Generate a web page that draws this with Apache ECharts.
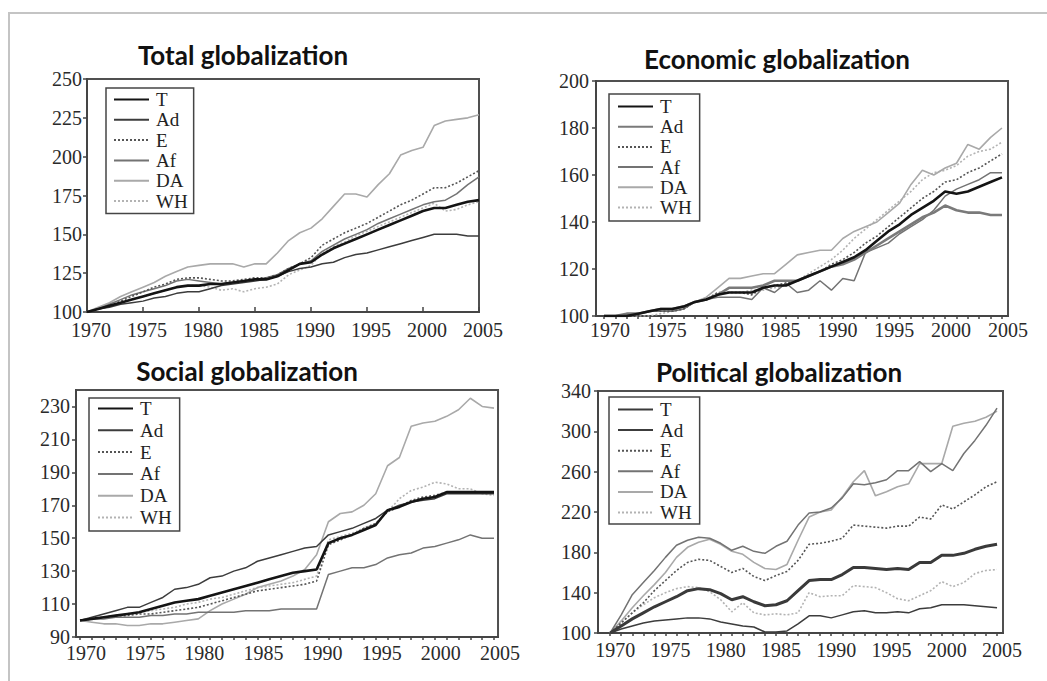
<!DOCTYPE html>
<html>
<head>
<meta charset="utf-8">
<script src="https://cdn.jsdelivr.net/npm/echarts@6/dist/echarts.min.js"></script>
<style>
  html, body { margin: 0; padding: 0; background: #fff; }
  #page { position: relative; width: 1047px; height: 681px; overflow: hidden; background: #fff; }
  #frame { position: absolute; left: 8px; top: 12px; width: 1060px; height: 700px;
           border-left: 2px solid #c4c4c4; border-top: 2px solid #c4c4c4; box-sizing: border-box; }
  .panel { position: absolute; }
</style>
</head>
<body>
<div id="page">
  <div id="frame"></div>
  <div class="panel" id="p1" style="left:0;top:0;width:523px;height:340px"></div>
  <div class="panel" id="p2" style="left:523px;top:0;width:524px;height:340px"></div>
  <div class="panel" id="p3" style="left:0;top:340px;width:523px;height:341px"></div>
  <div class="panel" id="p4" style="left:523px;top:340px;width:524px;height:341px"></div>
</div>
<script>
// Index values (1970 = 100) by region group, 1970-2005
const years = [1970,1971,1972,1973,1974,1975,1976,1977,1978,1979,1980,1981,1982,1983,1984,1985,1986,1987,
               1988,1989,1990,1991,1992,1993,1994,1995,1996,1997,1998,1999,2000,2001,2002,2003,2004,2005];
const seriesNames = ['T', 'Ad', 'E', 'Af', 'DA', 'WH'];
const yearLabels = [1970, 1975, 1980, 1985, 1990, 1995, 2000, 2005];

// Total globalization
const totalT  = [100,102,104,106,108,110,112,114,116,117, 117,118,118,119,120,121,121,123,127,131, 132,137,141,144,147,150,153,156,159,162, 165,167,167,169,171,172];
const totalAd = [100,102,103,105,106,107,109,110,112,113, 113,115,117,118,119,120,121,123,126,128, 129,131,132,135,137,138,140,142,144,146, 148,150,150,150,149,149];
const totalE  = [100,102,104,107,110,113,116,118,121,122, 122,121,120,120,121,122,122,124,128,131, 135,143,147,151,154,157,161,165,169,172, 176,180,180,183,187,191];
const totalAf = [100,102,105,108,111,113,115,117,120,121, 120,119,118,119,120,121,122,124,128,131, 133,139,143,147,150,153,157,160,163,166, 169,171,172,176,182,187];
const totalDA = [100,103,106,110,113,116,119,123,126,129, 130,131,131,131,129,131,131,138,146,151, 154,160,168,176,176,174,182,189,201,204, 206,220,223,224,225,227];
const totalWH = [100,102,104,106,108,110,112,114,116,117, 117,116,114,115,113,115,116,118,124,127, 130,138,142,145,149,152,155,158,161,164, 167,170,165,166,169,171];

// Economic globalization
const econT  = [100,100,100,101,102,103,103,104,106,107, 109,110,110,110,112,113,113,115,117,119, 121,123,125,128,132,136,139,143,146,149, 153,152,153,155,157,159];
const econAd = [100,100,101,101,102,103,103,104,106,107, 109,112,112,112,113,115,115,115,117,119, 121,122,124,127,130,133,136,139,142,144, 147,145,144,144,143,143];
const econE  = [100,100,100,101,102,102,102,103,106,107, 110,110,110,109,112,113,114,115,117,119, 122,124,127,131,134,138,142,146,150,153, 157,158,161,163,166,169];
const econAf = [100,100,100,101,102,102,102,103,106,107, 108,108,108,107,112,110,114,110,111,115, 111,116,115,127,129,131,135,138,141,145, 151,154,156,158,161,161];
const econDA = [100,100,100,101,102,102,102,103,106,108, 112,116,116,117,118,118,122,126,127,128, 128,133,136,138,140,144,148,156,162,160, 163,165,173,171,176,180];
const econWH = [100,100,99,100,100,101,102,103,106,107, 110,110,110,111,111,112,113,115,118,121, 124,128,133,137,141,145,149,153,158,161, 162,164,168,170,171,174];

// Social globalization
const socT  = [100,101,102,103,104,105,107,109,111,112, 113,115,117,119,121,123,125,127,129,130, 131,147,150,152,155,158,167,169,172,174, 175,178,178,178,178,178];
const socAd = [100,102,104,106,108,108,111,114,119,120, 122,126,127,130,132,136,138,140,142,144, 145,152,154,156,159,162,167,170,172,173, 174,177,177,177,177,177];
const socE  = [100,101,102,103,103,104,104,105,106,107, 108,110,112,114,116,118,119,120,121,122, 124,146,149,152,156,159,166,169,173,175, 176,178,178,178,178,178];
const socAf = [100,101,101,102,102,102,103,103,104,104, 105,105,105,105,106,106,106,107,107,107, 107,128,130,132,132,134,138,140,141,144, 145,147,149,152,150,150];
const socDA = [100,99,98,98,97,97,98,98,99,100, 101,106,110,113,116,120,122,124,127,131, 140,160,165,166,170,177,194,199,218,220, 221,224,228,235,230,229];
const socWH = [100,101,102,103,104,105,106,107,108,110, 111,113,114,116,118,120,121,122,123,125, 127,149,151,153,156,159,166,174,179,181, 184,183,180,180,177,176];
const socTicks = [90, 110, 130, 150, 170, 190, 210, 230];

// Political globalization
const polT  = [100,107,114,120,126,131,136,142,144,143, 139,133,136,131,127,128,132,142,152,153, 153,158,165,165,164,163,164,163,170,170, 177,177,179,183,186,188];
const polAd = [100,104,107,110,112,113,114,115,115,114, 111,109,107,106,101,101,102,109,117,117, 115,118,121,122,120,120,121,120,124,125, 128,128,128,127,126,125];
const polE  = [100,110,120,130,142,152,162,170,173,172, 166,160,164,156,152,157,161,172,188,189, 191,194,207,206,205,204,206,206,215,213, 227,223,230,237,245,250];
const polAf = [100,118,138,150,162,175,187,192,195,194, 189,182,186,181,179,186,191,207,219,220, 224,234,248,247,249,252,261,261,270,260, 268,261,278,291,306,323];
const polDA = [100,112,125,137,148,160,175,185,190,193, 188,181,178,170,164,163,168,192,215,220, 222,235,250,261,236,240,245,248,268,268, 268,305,308,310,314,320];
const polWH = [100,110,120,128,135,140,144,146,145,141, 133,121,130,120,118,119,118,120,140,136, 137,137,147,146,145,140,134,132,137,142, 151,146,150,159,162,163];

const serifFont = '"Liberation Serif", "DejaVu Serif", serif';
const titleFont = 'bold 26px Lato, "Open Sans", sans-serif';

const baseStyles = {
  T:  { color: '#141414', width: 2.6, type: 'solid' },
  Ad: { color: '#3c3c3c', width: 1.5, type: 'solid' },
  E:  { color: '#555555', width: 1.6, type: [2, 2] },
  Af: { color: '#737373', width: 1.5, type: 'solid' },
  DA: { color: '#a9a9a9', width: 1.6, type: 'solid' },
  WH: { color: '#b3b3b3', width: 1.6, type: [2, 2] }
};

function buildOption(cfg) {
  const styles = Object.assign({}, baseStyles, cfg.styleOverrides || {});
  return {
    animation: false,
    backgroundColor: 'transparent',
    graphic: [{
      type: 'text', x: cfg.titleX, y: cfg.titleY, silent: true,
      style: { text: cfg.title, font: titleFont, fill: '#111', align: 'center', verticalAlign: 'middle' }
    }],
    grid: {
      left: cfg.grid[0], top: cfg.grid[1], width: cfg.grid[2], height: cfg.grid[3],
      show: true, borderColor: '#505050', borderWidth: 2, backgroundColor: 'transparent'
    },
    legend: {
      orient: 'vertical', left: cfg.legend[0], top: cfg.legend[1],
      data: seriesNames, itemWidth: 35, itemHeight: 12, itemGap: cfg.legendGap,
      padding: cfg.legendPad,
      backgroundColor: '#fff', borderColor: '#454545', borderWidth: 1.5,
      selectedMode: false,
      // line samples only, no marker in the middle
      itemStyle: { color: 'rgba(0,0,0,0)', borderColor: 'rgba(0,0,0,0)', borderWidth: 0 },
      textStyle: { fontFamily: serifFont, fontSize: 19, color: '#222', lineHeight: 18, padding: [0, 0, 0, 2] }
    },
    xAxis: {
      type: 'value', min: cfg.xMin, max: cfg.xMax,
      axisLine: { show: true, lineStyle: { color: '#454545', width: 2 } },
      axisTick: {
        show: true, inside: cfg.xTickInside, length: cfg.xTickLen,
        customValues: cfg.yearlyTicks ? years : yearLabels,
        lineStyle: { color: '#454545', width: 1.5 }
      },
      axisLabel: {
        customValues: yearLabels, fontFamily: serifFont, fontSize: 20, color: '#2a2a2a',
        lineHeight: 16, margin: cfg.xLabelMargin, padding: [0, 0, 0, cfg.xLabelShift * 2],
        formatter: v => String(v)
      },
      splitLine: { show: false }
    },
    yAxis: {
      type: 'value', min: cfg.yMin, max: cfg.yMax, interval: cfg.yInterval,
      axisLine: { show: true, lineStyle: { color: '#454545', width: 2 } },
      axisTick: {
        show: true, length: 4, customValues: cfg.yTicks,
        lineStyle: { color: '#454545', width: 1.5 }
      },
      axisLabel: {
        customValues: cfg.yTicks, fontFamily: serifFont, fontSize: 20, color: '#2a2a2a',
        lineHeight: 14, margin: cfg.yLabelMargin
      },
      splitLine: { show: false }
    },
    series: seriesNames.map((name, k) => ({
      name: name, type: 'line', symbol: 'none', showSymbol: false, smooth: false,
      z: 10 - k,
      lineStyle: { color: styles[name].color, width: styles[name].width, type: styles[name].type },
      itemStyle: { color: styles[name].color },
      data: years.map((yr, i) => [yr, cfg.values[k][i]])
    }))
  };
}

function ticksFrom(min, max, step) {
  const out = [];
  for (let v = min; v <= max; v += step) out.push(v);
  return out;
}

const panels = [
  {
    id: 'p1', title: 'Total globalization', titleX: 243, titleY: 55,
    grid: [87, 79, 392, 233], legend: [106, 88], legendGap: 1.3, legendPad: [2, 6, 3, 7],
    xMin: 1970, xMax: 2005, xTickInside: true, xTickLen: 5, yearlyTicks: false,
    xLabelMargin: 10, xLabelShift: 4, yLabelMargin: 5,
    yMin: 100, yMax: 250, yInterval: 25, yTicks: ticksFrom(100, 250, 25),
    values: [totalT, totalAd, totalE, totalAf, totalDA, totalWH]
  },
  {
    id: 'p2', title: 'Economic globalization', titleX: 254, titleY: 59,
    grid: [73, 81, 412, 242], legend: [86, 94], legendGap: 1.2, legendPad: [3, 8, 4, 8],
    xMin: 1969.3, xMax: 2005.53, xTickInside: false, xTickLen: 3, yearlyTicks: true,
    xLabelMargin: 6, xLabelShift: 6, yLabelMargin: 7,
    yMin: 100, yMax: 200, yInterval: 20, yTicks: ticksFrom(100, 200, 20),
    values: [econT, econAd, econE, econAf, econDA, econWH],
    styleOverrides: { Ad: { color: '#7a7a7a', width: 2.6, type: 'solid' } }
  },
  {
    id: 'p3', title: 'Social globalization', titleX: 247, titleY: 31,
    grid: [76, 50, 423, 247], legend: [89, 58], legendGap: 2.8, legendPad: [1, 8, 4, 8],
    xMin: 1969.66, xMax: 2005.34, xTickInside: false, xTickLen: 3, yearlyTicks: true,
    xLabelMargin: 8, xLabelShift: 6, yLabelMargin: 6,
    yMin: 90, yMax: 240, yInterval: 20, yTicks: socTicks,
    values: [socT, socAd, socE, socAf, socDA, socWH]
  },
  {
    id: 'p4', title: 'Political globalization', titleX: 256, titleY: 32,
    grid: [75, 51, 405, 242], legend: [86, 57], legendGap: 1.6, legendPad: [3, 8, 2, 8],
    xMin: 1968.9, xMax: 2005.54, xTickInside: false, xTickLen: 3, yearlyTicks: true,
    xLabelMargin: 9, xLabelShift: 5, yLabelMargin: 7,
    yMin: 100, yMax: 340, yInterval: 40, yTicks: ticksFrom(100, 340, 40),
    values: [polT, polAd, polE, polAf, polDA, polWH],
    styleOverrides: { T: { color: '#3a3a3a', width: 3, type: 'solid' } }
  }
];

panels.forEach(cfg => {
  const chart = echarts.init(document.getElementById(cfg.id), null, { renderer: 'svg' });
  chart.setOption(buildOption(cfg));
});
</script>
</body>
</html>
